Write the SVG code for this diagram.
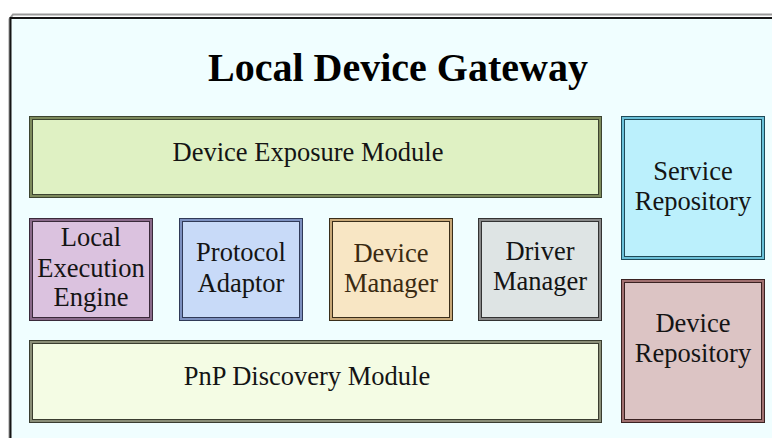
<svg xmlns="http://www.w3.org/2000/svg" width="772" height="438" viewBox="0 0 772 438">
<style>
.t{font-family:"Liberation Serif","Times New Roman",serif;font-size:26.5px;fill:#141414;text-anchor:middle}
.title{font-family:"Liberation Serif","Times New Roman",serif;font-size:40px;font-weight:bold;fill:#000;text-anchor:middle}
.o{stroke-width:4}
.i{stroke-width:2;fill:none}
</style>
<rect width="772" height="438" fill="#ffffff"/>
<g id="gateway">
<path d="M9.5,438 V19 L13,14.5 H772" fill="none" stroke="#9a9a9a" stroke-width="2"/>
<rect x="10.5" y="18" width="800" height="500" fill="#F0FEFF" stroke="#151515" stroke-width="2"/>
<text class="title" x="398" y="81">Local Device Gateway</text>
</g>
<g id="device-exposure">
<rect class="o" x="31" y="118" width="569" height="78" fill="#DFF1C3" stroke="#3c4430"/>
<rect class="i" x="31" y="118" width="569" height="78" stroke="#7d8a5c"/>
<text class="t" x="308" y="161">Device Exposure Module</text>
</g>
<g id="local-execution">
<rect class="o" x="31" y="220" width="120" height="99" fill="#DBC2DF" stroke="#3a2a3a"/>
<rect class="i" x="31" y="220" width="120" height="99" stroke="#8a6a8a"/>
<text class="t" x="91" y="246">Local</text>
<text class="t" x="91" y="277">Execution</text>
<text class="t" x="91" y="306">Engine</text>
</g>
<g id="protocol-adaptor">
<rect class="o" x="181" y="220" width="120" height="99" fill="#C8DAF8" stroke="#303a58"/>
<rect class="i" x="181" y="220" width="120" height="99" stroke="#7d90c0"/>
<text class="t" x="241" y="261">Protocol</text>
<text class="t" x="241" y="292">Adaptor</text>
</g>
<g id="device-manager">
<rect class="o" x="331" y="220" width="120" height="99" fill="#F8E6C4" stroke="#3a2e1a"/>
<rect class="i" x="331" y="220" width="120" height="99" stroke="#c8a878"/>
<text class="t" x="391" y="262" style="fill:#3a2a12">Device</text>
<text class="t" x="391" y="292" style="fill:#3a2a12">Manager</text>
</g>
<g id="driver-manager">
<rect class="o" x="480" y="220" width="120" height="99" fill="#DEE4E4" stroke="#333333"/>
<rect class="i" x="480" y="220" width="120" height="99" stroke="#888888"/>
<text class="t" x="540" y="259.5">Driver</text>
<text class="t" x="540" y="290">Manager</text>
</g>
<g id="service-repository">
<rect class="o" x="623" y="118" width="140" height="140" fill="#BBF0FC" stroke="#1e4a58"/>
<rect class="i" x="623" y="118" width="140" height="140" stroke="#6ac0d8"/>
<text class="t" x="693" y="180">Service</text>
<text class="t" x="693" y="210">Repository</text>
</g>
<g id="device-repository">
<rect class="o" x="623" y="281" width="140" height="140" fill="#DCC4C4" stroke="#3a2222"/>
<rect class="i" x="623" y="281" width="140" height="140" stroke="#a07070"/>
<text class="t" x="693" y="332">Device</text>
<text class="t" x="693" y="362">Repository</text>
</g>
<g id="pnp-discovery">
<rect class="o" x="31" y="342" width="569" height="79" fill="#F4FCE4" stroke="#3a3d30"/>
<rect class="i" x="31" y="342" width="569" height="79" stroke="#8a8e78"/>
<text class="t" x="307" y="385">PnP Discovery Module</text>
</g>
<g id="connectors"></g>
</svg>
